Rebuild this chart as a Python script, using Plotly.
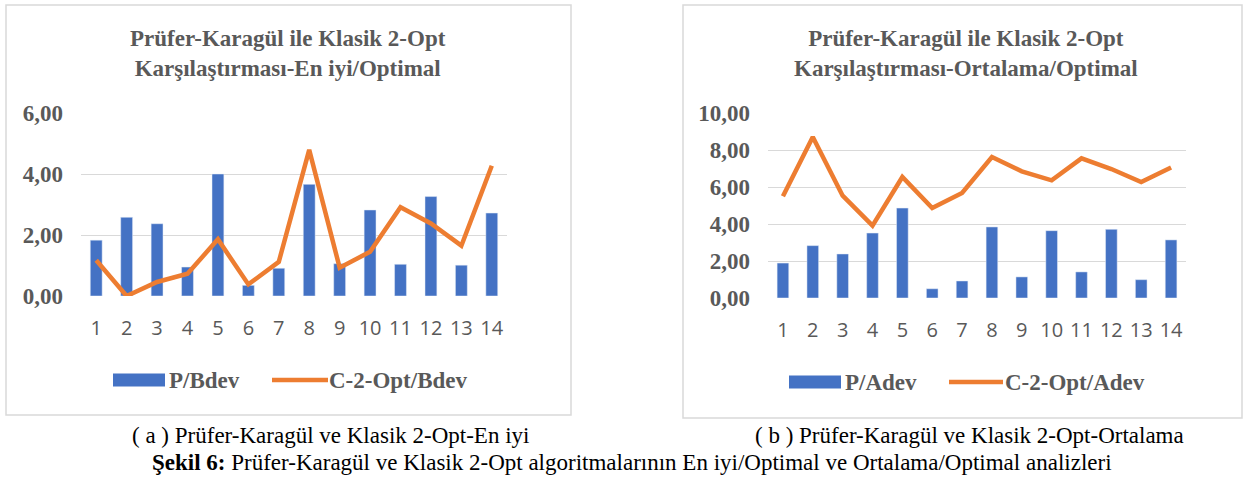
import plotly.graph_objects as go

W, H = 1243, 477

categories = [str(i) for i in range(1, 15)]

# Chart (a): En iyi / Optimal
p_bdev = [1.83, 2.58, 2.37, 0.95, 4.00, 0.35, 0.91, 3.66, 1.06, 2.82, 1.04, 3.26, 1.01, 2.72]
c2opt_bdev = [1.17, 0.00, 0.46, 0.73, 1.86, 0.38, 1.12, 4.79, 0.93, 1.45, 2.91, 2.38, 1.65, 4.27]

# Chart (b): Ortalama / Optimal
p_adev = [1.89, 2.83, 2.38, 3.51, 4.86, 0.50, 0.92, 3.84, 1.14, 3.64, 1.41, 3.71, 0.99, 3.14]
c2opt_adev = [5.50, 8.70, 5.53, 3.91, 6.54, 4.86, 5.68, 7.62, 6.85, 6.36, 7.55, 6.97, 6.27, 7.05]

yticks_a = [0, 2, 4, 6]
yticks_b = [0, 2, 4, 6, 8, 10]

names_a = ["P/Bdev", "C-2-Opt/Bdev"]
names_b = ["P/Adev", "C-2-Opt/Adev"]

title_a = "Prüfer-Karagül ile Klasik 2-Opt<br>Karşılaştırması-En iyi/Optimal"
title_b = "Prüfer-Karagül ile Klasik 2-Opt<br>Karşılaştırması-Ortalama/Optimal"
caption_a = "( a ) Prüfer-Karagül ve Klasik 2-Opt-En iyi"
caption_b = "( b ) Prüfer-Karagül ve Klasik 2-Opt-Ortalama"
caption_main = "<b>Şekil 6:</b> Prüfer-Karagül ve Klasik 2-Opt algoritmalarının En iyi/Optimal ve Ortalama/Optimal analizleri"

BLUE = "#4472C4"
ORANGE = "#ED7D31"
GRAY = "#595959"
GRID = "#D9D9D9"
SERIF = "Liberation Serif, Times New Roman, serif"
SANS = "Open Sans, Liberation Sans, sans-serif"


def px(x):
    return x / W


def py(y):
    return 1 - y / H


fig = go.Figure()

fig.add_trace(go.Bar(x=categories, y=p_bdev, name=names_a[0], marker_color=BLUE,
                     xaxis="x", yaxis="y", showlegend=False))
fig.add_trace(go.Scatter(x=categories, y=c2opt_bdev, name=names_a[1], mode="lines",
                         line=dict(color=ORANGE, width=4.5), xaxis="x", yaxis="y",
                         showlegend=False))
fig.add_trace(go.Bar(x=categories, y=p_adev, name=names_b[0], marker_color=BLUE,
                     xaxis="x2", yaxis="y2", showlegend=False))
fig.add_trace(go.Scatter(x=categories, y=c2opt_adev, name=names_b[1], mode="lines",
                         line=dict(color=ORANGE, width=4.5), xaxis="x2", yaxis="y2",
                         showlegend=False))

xcommon = dict(type="category", showgrid=False, zeroline=False, showline=False,
               ticks="", tickfont=dict(family=SANS, size=20, color=GRAY),
               ticklabelstandoff=18, fixedrange=True, automargin=False)
ycommon = dict(showgrid=True, gridcolor=GRID, gridwidth=1, zeroline=False, showline=False,
               ticks="", tickformat=".2f",
               tickfont=dict(family=SERIF, size=23, color=GRAY, weight="bold"),
               ticklabelstandoff=17, fixedrange=True, automargin=False)

fig.update_layout(
    width=W, height=H,
    margin=dict(l=0, r=0, t=0, b=0, pad=0, autoexpand=False),
    paper_bgcolor="white", plot_bgcolor="white",
    separators=",.",
    barmode="group", bargap=0.61,
    xaxis=dict(domain=[px(81), px(507)], anchor="y", **xcommon),
    yaxis=dict(domain=[py(296), py(113)], anchor="x", range=[0, 6],
               tickvals=yticks_a, **ycommon),
    xaxis2=dict(domain=[px(768), px(1186)], anchor="y2", **xcommon),
    yaxis2=dict(domain=[py(298), py(113)], anchor="x2", range=[0, 10],
                tickvals=yticks_b, **ycommon),
    showlegend=False,
)

# chart frames
fig.add_shape(type="rect", xref="paper", yref="paper",
              x0=px(6), x1=px(571), y0=py(415), y1=py(5),
              line=dict(color=GRID, width=1.5), layer="below")
fig.add_shape(type="rect", xref="paper", yref="paper",
              x0=px(683), x1=px(1242), y0=py(418), y1=py(5),
              line=dict(color=GRID, width=1.5), layer="below")

# legends (wide keys like the original)
legend_font = dict(family=SERIF, size=23, color=GRAY, weight="bold")


def add_legend(names, rect_x, rect_text_x, line_x, line_text_x, yc):
    fig.add_shape(type="rect", xref="paper", yref="paper",
                  x0=px(rect_x[0]), x1=px(rect_x[1]), y0=py(yc + 6.5), y1=py(yc - 6.5),
                  fillcolor=BLUE, line=dict(width=0))
    fig.add_annotation(text=names[0], xref="paper", yref="paper", x=px(rect_text_x), y=py(yc),
                       xanchor="left", yanchor="middle", showarrow=False, font=legend_font)
    fig.add_shape(type="line", xref="paper", yref="paper",
                  x0=px(line_x[0]), x1=px(line_x[1]), y0=py(yc), y1=py(yc),
                  line=dict(color=ORANGE, width=4.5))
    fig.add_annotation(text=names[1], xref="paper", yref="paper", x=px(line_text_x), y=py(yc),
                       xanchor="left", yanchor="middle", showarrow=False, font=legend_font)


add_legend(names_a, (113, 165), 167, (272, 328), 327, 380)
add_legend(names_b, (789, 841), 843, (949, 1003), 1003, 382)

# chart titles
title_font = dict(family=SERIF, size=23, color=GRAY)
fig.add_annotation(text="<b>" + title_a + "</b>", xref="paper", yref="paper",
                   x=px(288), y=py(54), xanchor="center", yanchor="middle",
                   showarrow=False, align="center", font=title_font)
fig.add_annotation(text="<b>" + title_b + "</b>", xref="paper", yref="paper",
                   x=px(966), y=py(54), xanchor="center", yanchor="middle",
                   showarrow=False, align="center", font=title_font)

# captions
cap_font = dict(family=SERIF, size=23, color="black")
fig.add_annotation(text=caption_a, xref="paper", yref="paper",
                   x=px(330), y=py(435), xanchor="center", yanchor="middle",
                   showarrow=False, font=cap_font)
fig.add_annotation(text=caption_b, xref="paper", yref="paper",
                   x=px(969), y=py(435), xanchor="center", yanchor="middle",
                   showarrow=False, font=cap_font)
fig.add_annotation(text=caption_main, xref="paper", yref="paper",
                   x=px(632), y=py(462), xanchor="center", yanchor="middle",
                   showarrow=False, font=cap_font)

post = (
    "document.documentElement.style.margin='0';"
    "document.documentElement.style.overflow='hidden';"
    "document.body.style.margin='0';"
    "document.body.style.overflow='hidden';"
    "var d=document.getElementById('{plot_id}');"
    "d.style.position='fixed';d.style.left='0px';d.style.top='0px';"
)

fig.write_html("out.html", config={"displayModeBar": False}, post_script=post)
